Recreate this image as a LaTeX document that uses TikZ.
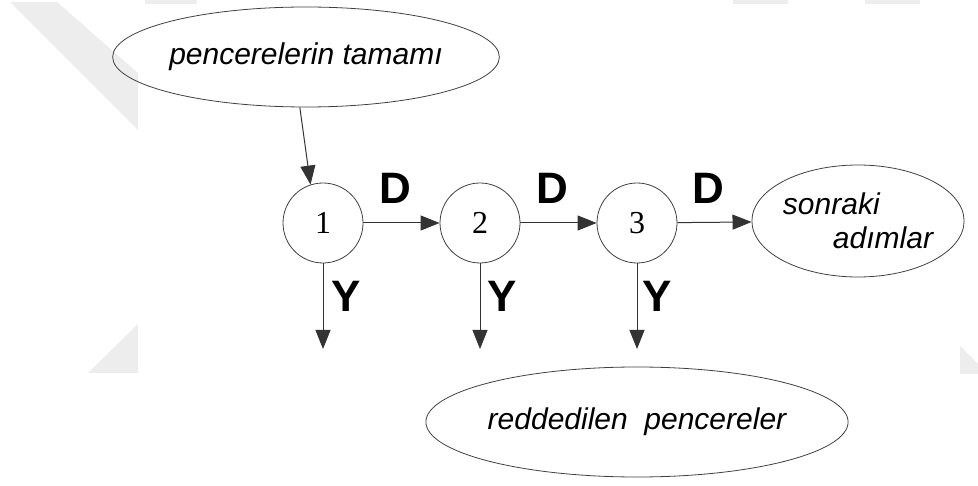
\documentclass[tikz,border=0pt]{standalone}
\usepackage{fontspec}
\setmainfont{Liberation Serif}
\setsansfont{Liberation Sans}
\usetikzlibrary{shapes.geometric,arrows.meta}
\tikzset{
  arr/.style={draw=black!80, line width=1pt, -{Triangle[length=19pt,width=15pt]}},
  stepcirc/.style={circle, draw=black!75, line width=0.8pt, minimum size=80pt, inner sep=0pt,
    font=\fontsize{32}{34}\selectfont},
  oval/.style={ellipse, draw=black!75, line width=0.8pt, inner sep=0pt,
    font=\sffamily\itshape\fontsize{30}{34}\selectfont},
  lbl/.style={font=\sffamily\bfseries\fontsize{44}{46}\selectfont, inner sep=0pt},
  wm/.style={fill=black!7, draw=none}
}
\begin{document}
\begin{tikzpicture}[x=1pt,y=-1pt]
\useasboundingbox (0,0) rectangle (978,486);
% faint background watermark fragments
\fill[wm] (10,2) -- (57,2) -- (138,73) -- (138,130) -- cycle;
\fill[wm] (88,373) -- (138,324) -- (138,373) -- cycle;
\fill[wm] (960,346) -- (978,364) -- (978,374) -- (960,374) -- cycle;
\fill[wm] (145,0) rectangle (197,4);
\fill[wm] (733,0) rectangle (788,4);
\fill[wm] (865,0) rectangle (920,4);
% nodes
\node[oval, minimum width=318pt, minimum height=100pt] (all) at (306,57) {pencerelerin tamamı};
\node[stepcirc] (c1) at (323,223) {\raisebox{-3pt}{1}};
\node[stepcirc] (c2) at (480,223) {\raisebox{-3pt}{2}};
\node[stepcirc] (c3) at (637,223) {\raisebox{-3pt}{3}};
\node[oval, minimum width=192pt, minimum height=112pt, align=left] (next) at (858,221)
  {sonraki\\\hspace*{50pt}adımlar};
\node[oval, minimum width=384pt, minimum height=110pt] (rej) at (637,422) {reddedilen\ \ pencereler};
\coordinate (y1) at (323,349);
\coordinate (y2) at (480,349);
\coordinate (y3) at (637,349);
% connectors
\draw[arr] (all.-97) -- (c1.108);
\draw[arr] (c1) -- (c2);
\draw[arr] (c2) -- (c3);
\draw[arr] (c3) -- (next);
\draw[arr] (c1.south) -- (y1);
\draw[arr] (c2.south) -- (y2);
\draw[arr] (c3.south) -- (y3);
% labels
\node[lbl] (d1) at (395,188) {D};
\node[lbl] (d2) at (552,188) {D};
\node[lbl] (d3) at (708,188) {D};
\node[lbl] (n1) at (346,296) {Y};
\node[lbl] (n2) at (502,296) {Y};
\node[lbl] (n3) at (657,296) {Y};
\end{tikzpicture}
\end{document}
